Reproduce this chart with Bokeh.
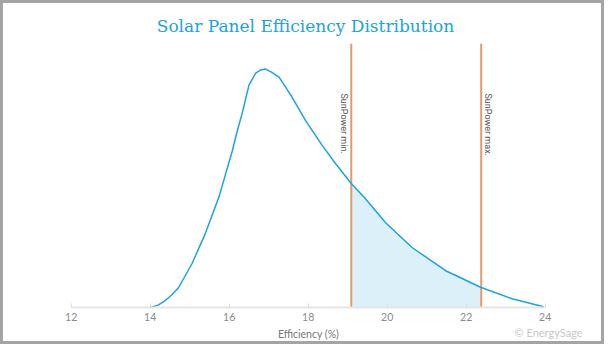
import math
from bokeh.plotting import figure
from bokeh.models import Range1d, FixedTicker, Label, ColumnDataSource
from bokeh.core.properties import value
from bokeh.embed import file_html
from bokeh.resources import INLINE

# ---- data ----
efficiency = [14.01, 14.20, 14.39, 14.55, 14.72, 15.06, 15.40, 15.74, 16.08, 16.20,
              16.33, 16.50, 16.67, 16.80, 16.92, 17.08, 17.26, 17.42, 17.59, 17.93,
              18.35, 18.69, 19.09, 19.45, 19.96, 20.63, 21.48, 22.38, 23.16, 23.96]
density = [0.000, 0.003, 0.009, 0.016, 0.025, 0.055, 0.093, 0.138, 0.196, 0.220,
           0.243, 0.278, 0.293, 0.297, 0.298, 0.294, 0.288, 0.276, 0.263, 0.234,
           0.203, 0.180, 0.155, 0.136, 0.106, 0.075, 0.046, 0.025, 0.011, 0.001]
sunpower = [19.09, 22.38]
sunpower_labels = ["SunPower min.", "SunPower max."]
tick_values = [12, 14, 16, 18, 20, 22, 24]

BLUE = "#1ba3dd"
ORANGE = "#e39a6a"
Y_TOP = 0.33

p = figure(width=604, height=344, output_backend="svg", toolbar_location=None,
           x_range=Range1d(10.286, 25.577), y_range=Range1d(-0.05, Y_TOP),
           min_border_left=0, min_border_right=0, min_border_top=40, min_border_bottom=0,
           title="Solar Panel Efficiency Distribution")
p.styles = {"border": "3px solid #a4a4a4"}
p.outline_line_color = None
p.background_fill_color = "white"
p.border_fill_color = "white"
p.xgrid.visible = False
p.ygrid.visible = False
p.yaxis.visible = False

p.title.align = "center"
p.title.text_color = BLUE
p.title.text_font = "DejaVu Serif"
p.title.text_font_size = "17px"
p.title.text_font_style = "normal"
p.title.standoff = 15

ax = p.xaxis[0]
ax.fixed_location = 0
ax.bounds = (tick_values[0], tick_values[-1])
ax.ticker = FixedTicker(ticks=tick_values)
ax.axis_line_color = "#e6e6e6"
ax.axis_line_width = 2
ax.major_tick_line_color = "#dddddd"
ax.major_tick_in = 4
ax.major_tick_out = 0
ax.minor_tick_line_color = None
ax.major_label_text_color = "#8a8a8a"
ax.major_label_text_font = "Lato"
ax.major_label_text_font_size = "10.5px"
ax.major_label_standoff = 5
ax.axis_label = "Efficiency (%)"
ax.axis_label_text_color = "#777777"
ax.axis_label_text_font = "Lato"
ax.axis_label_text_font_size = "10.5px"
ax.axis_label_text_font_style = "normal"
ax.axis_label_standoff = 4

# shaded region between the SunPower min and max
lo, hi = sunpower
sx = [x for x in efficiency if lo <= x <= hi]
sy = [d for x, d in zip(efficiency, density) if lo <= x <= hi]
p.varea(x=sx, y1=[0] * len(sx), y2=sy, fill_color="#dbf0f8")

p.segment(x0=sunpower, y0=[0, 0], x1=sunpower, y1=[Y_TOP, Y_TOP],
          line_color=ORANGE, line_width=2)

p.line(efficiency, density, line_color=BLUE, line_width=1.5)

lsrc = ColumnDataSource(dict(x=sunpower, y=[0.2675, 0.2675], text=sunpower_labels, xo=[-7, 7]))
p.text(x="x", y="y", text="text", x_offset="xo", source=lsrc, angle=-math.pi / 2,
       text_align="left", text_baseline="middle", text_color="#555555",
       text_font=value("Roboto"), text_font_size="9px")

p.add_layout(Label(x=511, y=9, x_units="screen", y_units="screen", text="© EnergySage",
                   text_color="#c8c8c8", text_font="Lato", text_font_size="11px"))

open("out.html", "w").write(file_html(p, INLINE))
